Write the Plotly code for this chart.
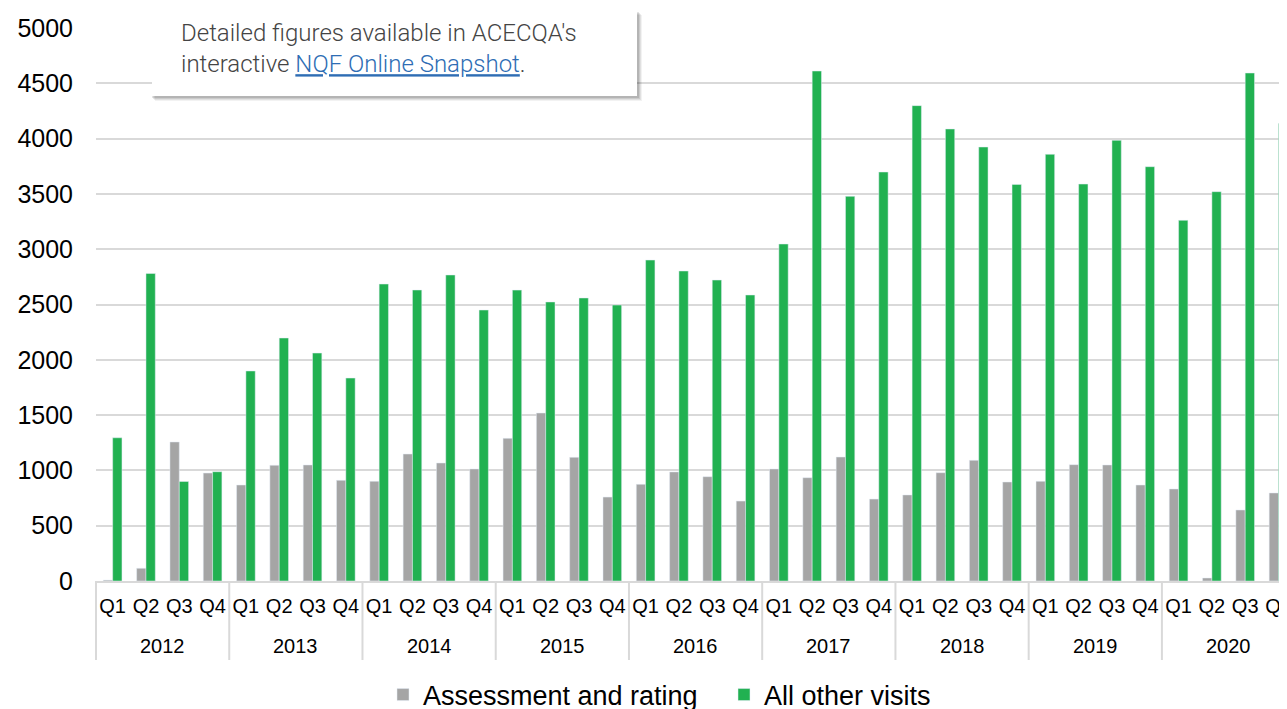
import plotly.graph_objects as go

# Quarterly visits data
years = ['2012', '2013', '2014', '2015', '2016', '2017', '2018', '2019', '2020']
quarters = ['Q1', 'Q2', 'Q3', 'Q4']

assessment = [8, 115, 1257, 976,
              868, 1046, 1049, 910,
              901, 1148, 1067, 1013,
              1290, 1519, 1118, 759,
              874, 986, 943, 723,
              1013, 934, 1121, 741,
              778, 979, 1091, 895,
              901, 1052, 1049, 868,
              832, 27, 642, 796]

other_visits = [1295, 2780, 900, 988,
                1899, 2197, 2061, 1835,
                2685, 2631, 2767, 2450,
                2630, 2523, 2559, 2495,
                2902, 2803, 2721, 2586,
                3047, 4611, 3478, 3698,
                4298, 4087, 3924, 3586,
                3858, 3589, 3984, 3746,
                3261, 3520, 4593, 4136]

periods = [y + ' ' + q for y in years for q in quarters]
period_quarters = [q for y in years for q in quarters]

FONT = 'Liberation Sans, Arial, sans-serif'
# page body has an 8px margin, so the figure is shifted by 8px
OFF = 8
W, H = 1271, 701
L, T, B = 88, 20, 128
QW = 33.31  # px per quarter in the reference
XRANGE = [-0.5, -0.5 + (W - L) / QW]


def px(x):
    return (x - OFF - L) / (W - L)


def py(y):
    return (H - B - (y - OFF)) / (H - B - T)


def pcat(i):
    # category index -> paper x
    return (i - XRANGE[0]) / (XRANGE[1] - XRANGE[0])


fig = go.Figure()
fig.add_trace(go.Bar(x=periods, y=assessment, name='Assessment and rating',
                     marker_color='#A5A5A5'))
fig.add_trace(go.Bar(x=periods, y=other_visits, name='All other visits',
                     marker_color='#21B151'))

fig.update_layout(
    width=W, height=H,
    margin=dict(l=L, r=0, t=T, b=B, autoexpand=False),
    paper_bgcolor='white', plot_bgcolor='white',
    barmode='group', bargap=0.44, bargroupgap=0,
    font=dict(family=FONT, color='black'),
    legend=dict(orientation='h', x=px(383), xanchor='left', y=py(695), yanchor='middle',
                font=dict(size=27, family=FONT), itemwidth=30, traceorder='normal',
                entrywidth=296),
    showlegend=True,
)

fig.update_yaxes(range=[0, 5000], dtick=500, tickformat='d', gridcolor='#D9D9D9', gridwidth=1.5,
                 showline=False, zeroline=False, tickfont=dict(size=25, family=FONT),
                 ticklabelstandoff=22, automargin=False)
fig.update_xaxes(type='category', range=XRANGE, showline=True, linecolor='#D9D9D9',
                 linewidth=2, tickvals=periods, ticktext=period_quarters,
                 tickfont=dict(size=20, family=FONT), tickangle=0, ticklabelstandoff=6,
                 showgrid=False, automargin=False)

# year labels and dividers under the quarter ticks
for k, y in enumerate(years):
    fig.add_annotation(xref='paper', yref='paper', x=pcat(4 * k + 1.5), y=py(646),
                       text=y, showarrow=False, xanchor='center', yanchor='middle',
                       font=dict(size=20, family=FONT, color='black'))
for k in range(len(years)):
    fig.add_shape(type='line', xref='paper', yref='paper',
                  x0=pcat(4 * k - 0.5), x1=pcat(4 * k - 0.5), y0=0, y1=py(660),
                  line=dict(color='#D9D9D9', width=2))

# callout box with soft shadow
for off, alpha in [(5, 0.05), (4, 0.07), (3, 0.09), (2, 0.11)]:
    fig.add_shape(type='rect', xref='paper', yref='paper',
                  x0=px(152 + off - 2), x1=px(637 + off), y0=py(10 + off), y1=py(96 + off),
                  fillcolor='rgba(0,0,0,%s)' % alpha, line_width=0, layer='above')
fig.add_shape(type='rect', xref='paper', yref='paper',
              x0=px(152), x1=px(637), y0=py(10), y1=py(96),
              fillcolor='white', line_width=0, layer='above')

fig.add_annotation(
    xref='paper', yref='paper', x=px(179), y=py(17), xanchor='left', yanchor='top',
    align='left', showarrow=False,
    text="Detailed figures available in ACECQA's<br>interactive "
         "<a href='https://snapshots.acecqa.gov.au/'><span style='color:#2E6DB4'><u>NQF Online Snapshot</u></span></a>.",
    font=dict(family='Roboto, Open Sans, sans-serif', size=24, color='#444444', weight=300),
)

fig.write_html("out.html")
